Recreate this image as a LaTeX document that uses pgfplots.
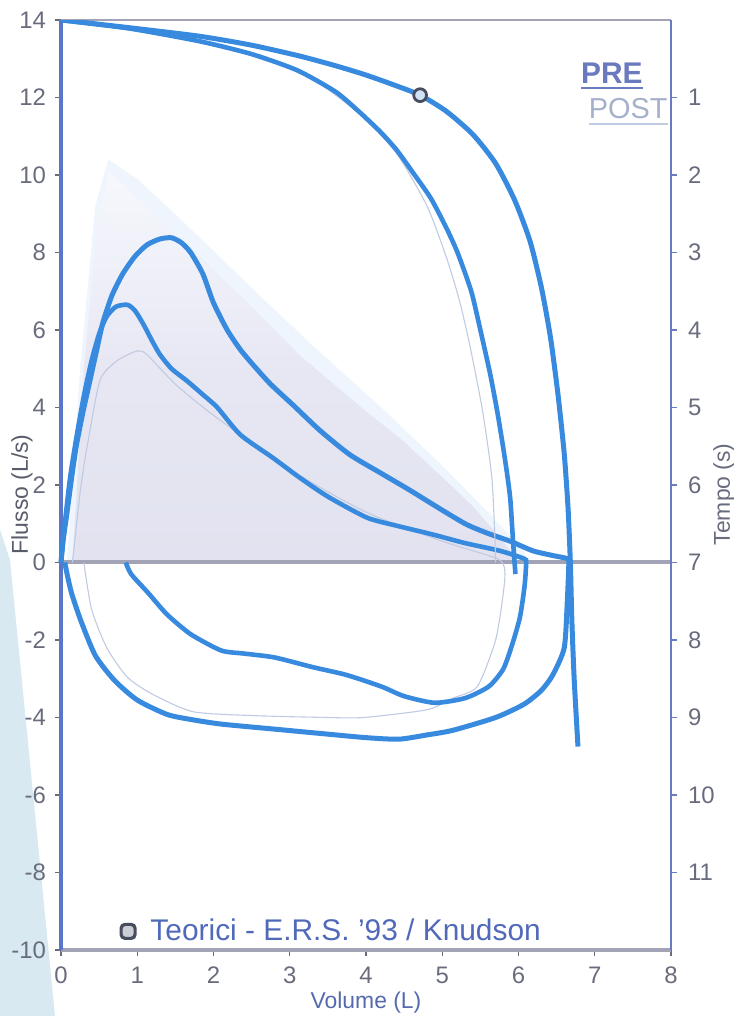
\documentclass[border=0pt]{standalone}
\usepackage{pgfplots}
\usepackage{pgfplotstable}
\pgfplotsset{compat=1.18}
\usetikzlibrary{backgrounds}
\usepackage{fontspec}
\setmainfont{Liberation Sans}
\definecolor{curve}{RGB}{55,138,222}
\definecolor{postc}{RGB}{192,202,224}
\definecolor{posttxt}{RGB}{165,176,202}
\definecolor{spineL}{RGB}{90,118,202}
\definecolor{spineR}{RGB}{105,122,190}
\definecolor{lineg}{RGB}{162,163,182}
\definecolor{tickc}{RGB}{105,108,125}
\definecolor{lav}{RGB}{226,226,240}
\definecolor{lavtop}{RGB}{246,248,253}
\definecolor{palebl}{RGB}{238,245,252}
\definecolor{wedge}{RGB}{216,233,241}
\definecolor{txtbl}{RGB}{80,105,185}
\definecolor{mkgray}{RGB}{72,76,92}

% Loop A (PRE) : volume (L), flow (L/s)
\pgfplotstableread{
x y
0 0
0.03 0.6
0.08 1.3
0.14 2.2
0.2 3.0
0.29 3.9
0.38 4.7
0.47 5.5
0.55 6.2
0.67 6.9
0.81 7.45
0.97 7.9
1.13 8.2
1.3 8.35
1.45 8.38
1.58 8.25
1.7 8.0
1.86 7.45
2.0 6.7
2.18 6.0
2.35 5.5
2.52 5.1
2.75 4.6
3.04 4.07
3.4 3.4
3.79 2.78
4.2 2.3
4.58 1.86
5.0 1.35
5.32 0.98
5.6 0.75
5.89 0.55
6.19 0.3
6.45 0.18
6.64 0.1
6.66 0
6.64 -1.0
6.6 -2.2
6.45 -2.9
6.3 -3.3
6.07 -3.66
5.7 -4.0
5.14 -4.33
4.8 -4.45
4.43 -4.56
4.0 -4.52
3.5 -4.43
2.8 -4.3
2.1 -4.17
1.7 -4.05
1.39 -3.92
1.0 -3.55
0.7 -3.04
0.45 -2.4
0.26 -1.5
0.14 -0.8
0.08 -0.3
0.05 0
}\loopA

% Loop B
\pgfplotstableread{
x y
0 0
0.05 1.0
0.12 2.2
0.2 3.2
0.3 4.3
0.4 5.2
0.5 5.9
0.6 6.35
0.72 6.6
0.87 6.65
0.97 6.5
1.08 6.15
1.2 5.7
1.3 5.36
1.45 5.0
1.65 4.69
1.85 4.35
2.05 4.0
2.35 3.3
2.78 2.7
3.13 2.19
3.5 1.7
4.01 1.16
4.4 0.95
4.88 0.72
5.3 0.5
5.76 0.3
6.07 0.1
6.1 0
6.08 -0.6
6.02 -1.4
5.92 -2.1
5.8 -2.75
5.61 -3.2
5.3 -3.5
4.9 -3.62
4.5 -3.45
4.2 -3.2
3.74 -2.9
3.3 -2.7
2.8 -2.45
2.4 -2.35
2.1 -2.27
1.7 -1.85
1.39 -1.34
1.15 -0.8
0.92 -0.3
0.85 0
}\loopB

% POST (thin)
\pgfplotstableread{
x y
0.15 0
0.25 1.8
0.34 2.96
0.51 4.69
0.73 5.2
1.0 5.46
1.13 5.36
1.5 4.6
2.0 3.8
3.0 2.4
4.0 1.3
5.0 0.55
5.72 0.1
5.82 -0.2
5.8 -0.8
5.7 -2.0
5.46 -3.2
5.14 -3.5
4.8 -3.8
3.97 -4.0
3.49 -4.0
2.5 -3.95
1.73 -3.85
1.2 -3.4
0.87 -2.96
0.6 -2.2
0.4 -1.2
0.3 0
}\loopPost

% Predicted area
\pgfplotstableread{
x y
0.08 0
0.25 5
0.45 9.2
0.62 10.4
1.0 9.9
1.6 8.8
2.6 6.9
3.3 5.6
4.2 4.0
5.0 2.5
5.6 1.3
6.05 0.35
6.15 0
}\predOuter
\pgfplotstableread{
x y
0.15 0
0.3 5
0.48 8.8
0.62 10.1
0.9 9.6
1.5 8.5
2.5 6.6
3.13 5.35
4.0 3.9
4.45 3.2
5.0 2.2
5.4 1.45
5.8 0.55
6.0 0
}\predInner

% Volume-time curves: volume (L), time (s)
\pgfplotstableread{
x t
0 0
0.9 0.1
1.82 0.21
2.5 0.325
3.13 0.465
3.6 0.59
4.0 0.71
4.4 0.85
4.71 0.97
5.05 1.175
5.4 1.475
5.7 1.85
5.95 2.325
6.15 2.85
6.3 3.45
6.42 4.1
6.52 4.85
6.6 5.6
6.65 6.3
6.68 7.0
6.7 7.75
6.73 8.5
6.78 9.375
}\vtA
\pgfplotstableread{
x t
0 0
0.9 0.11
1.82 0.275
2.5 0.44
3.1 0.65
3.6 0.925
3.9 1.175
4.18 1.435
4.4 1.675
4.62 1.975
4.85 2.3
5.05 2.675
5.2 3.0
5.38 3.5
5.5 4.0
5.63 4.575
5.73 5.1
5.82 5.65
5.89 6.16
5.93 6.75
5.96 7.15
}\vtB
\pgfplotstableread{
x t
0 0
1.82 0.275
3.1 0.65
3.9 1.2
4.4 1.72
4.8 2.4
5.05 3.05
5.22 3.6
5.36 4.19
5.53 5.05
5.65 5.9
5.69 6.68
5.7 7.0
}\vtPost

\begin{document}
\begin{tikzpicture}
\begin{axis}[
  scale only axis, width=305bp, height=465bp,
  xmin=0, xmax=8, ymin=-10, ymax=14,
  axis line style={draw=none},
  xtick={0,...,8}, ytick={-10,-8,...,14},
  xtick pos=bottom, ytick pos=left,
  tick align=outside, major tick length=3bp,
  tick style={draw=tickc, line width=0.7bp},
  tick label style={font=\fontsize{12}{14}\selectfont, text=tickc},
  /pgf/number format/assume math mode=true,
  yticklabel style={xshift=-1bp},
  xticklabel style={yshift=-2bp},
  clip=false,
]
\addplot[draw=none, fill=palebl] table[x=x,y=y] {\predOuter};
\addplot[draw=none, top color=lavtop, bottom color=lav, middle color=lav!75!lavtop] table[x=x,y=y] {\predInner};
% spines
\draw[lineg, line width=1.2bp] (rel axis cs:0,1) -- (rel axis cs:1,1);
\draw[lineg, line width=2bp] (rel axis cs:0,0) -- (rel axis cs:1,0);
\draw[lineg, line width=2bp] (axis cs:0,0) -- (axis cs:8,0);
\draw[spineL, line width=2bp] (rel axis cs:0,0) -- (rel axis cs:0,1);
% curves
\addplot[postc, line width=0.55bp, smooth, tension=0.4] table[x=x,y=y] {\loopPost};
\addplot[curve, line width=2.3bp, smooth, tension=0.4] table[x=x,y=y] {\loopB};
\addplot[curve, line width=2.5bp, smooth, tension=0.4] table[x=x,y=y] {\loopA};
% labels
\node[rotate=90, font=\fontsize{11.5}{13}\selectfont, text=tickc!85!black] at (rel axis cs:-0.064,0.49) {Flusso (L/s)};
\node[font=\fontsize{11.5}{13}\selectfont, text=txtbl!80!tickc] at (rel axis cs:0.5,-0.056) {Volume (L)};
\node[rotate=90, font=\fontsize{11.5}{13}\selectfont, text=tickc] at (rel axis cs:1.087,0.49) {Tempo (s)};
% legend text
\node[font=\fontsize{15}{17}\selectfont\bfseries, text=spineR, inner sep=0pt] (pre) at (rel axis cs:0.903,0.943) {PRE};
\draw[spineR, line width=1bp] ([yshift=-2bp]pre.south west) -- ([yshift=-2bp]pre.south east);
\node[font=\fontsize{14.5}{17}\selectfont, text=posttxt, inner sep=0pt] (post) at (rel axis cs:0.93,0.905) {POST};
\draw[postc, line width=1.2bp] ([yshift=-2.5bp]post.south west) -- ([yshift=-2.5bp]post.south east);
% footer
\node[font=\fontsize{15}{17}\selectfont, text=txtbl, anchor=west, inner sep=0pt] at (rel axis cs:0.146,0.022) {Teorici - E.R.S. '93 / Knudson};
\node[draw=mkgray, fill=lavtop!70!tickc, line width=1.6bp, rounded corners=2bp, minimum size=7bp, inner sep=0pt] at (rel axis cs:0.11,0.02) {};
\end{axis}
\begin{axis}[
  scale only axis, width=305bp, height=465bp,
  xmin=0, xmax=8, ymin=0, ymax=12, y dir=reverse,
  axis x line=none, axis y line*=right,
  axis line style={spineR, line width=1.1bp},
  ytick={1,...,11},
  tick align=outside, major tick length=3bp,
  tick style={draw=spineR, line width=0.7bp},
  tick label style={font=\fontsize{12}{14}\selectfont, text=tickc},
  /pgf/number format/assume math mode=true,
  yticklabel style={xshift=2bp},
]
\addplot[postc, line width=0.55bp, smooth, tension=0.4] table[x=x,y=t] {\vtPost};
\addplot[curve, line width=2.3bp, smooth, tension=0.4] table[x=x,y=t] {\vtB};
\addplot[curve, line width=2.5bp, smooth, tension=0.4] table[x=x,y=t] {\vtA};
\end{axis}
\begin{axis}[
  scale only axis, width=305bp, height=465bp,
  xmin=0, xmax=8, ymin=-10, ymax=14, hide axis,
]
\addplot[only marks, mark=*, mark size=3.2bp, mark options={draw=mkgray, fill=lavtop!80!curve, line width=1.4bp}] coordinates {(4.71,12.06)};
\end{axis}
\begin{scope}[on background layer]
\fill[wedge] (-30.5bp,210bp) -- (-25.5bp,195bp) -- (-3bp,-33bp) -- (-30.5bp,-33bp) -- cycle;
\end{scope}
\pgfresetboundingbox
\path ([shift={(-30.5bp,-33bp)}]current axis.south west) rectangle ([shift={(31.5bp,10bp)}]current axis.north east);
\end{tikzpicture}
\end{document}
